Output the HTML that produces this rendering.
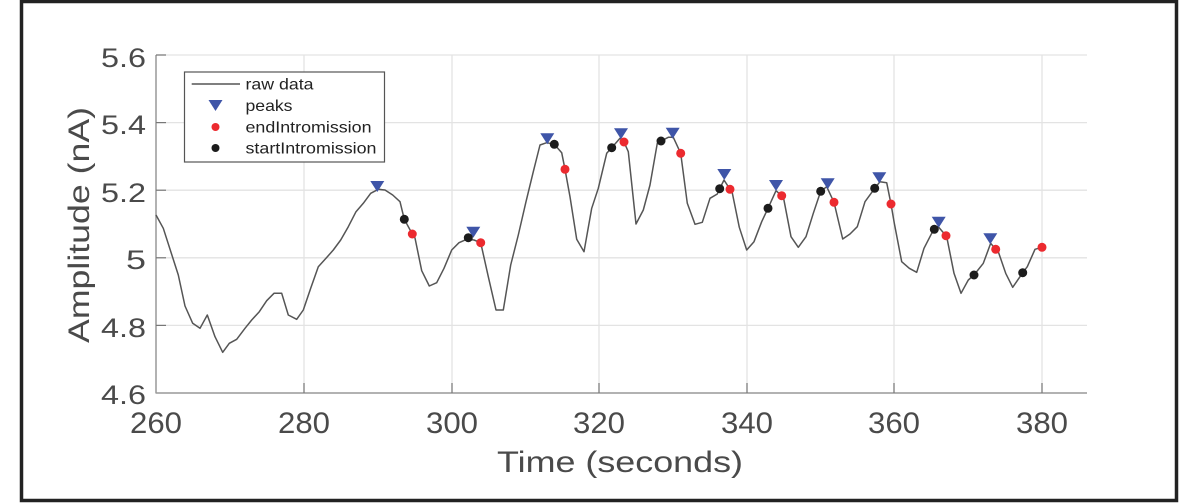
<!DOCTYPE html>
<html><head><meta charset="utf-8"><style>
html,body{margin:0;padding:0;background:#fff;}
svg{display:block;font-family:"Liberation Sans",sans-serif;}
</style></head><body>
<svg width="1200" height="504" viewBox="0 0 1200 504" xmlns="http://www.w3.org/2000/svg">
<rect x="0" y="0" width="1200" height="504" fill="#fff"/>
<rect x="21.5" y="1.5" width="1155" height="499" fill="#fff" stroke="#222" stroke-width="3.5"/>
<!-- grid -->
<g stroke="#e3e3e3" stroke-width="1.3">
<line x1="304" y1="55" x2="304" y2="393"/><line x1="452" y1="55" x2="452" y2="393"/>
<line x1="599" y1="55" x2="599" y2="393"/><line x1="747" y1="55" x2="747" y2="393"/>
<line x1="894" y1="55" x2="894" y2="393"/><line x1="1042" y1="55" x2="1042" y2="393"/>
<line x1="156" y1="55" x2="1087" y2="55"/><line x1="156" y1="122.6" x2="1087" y2="122.6"/>
<line x1="156" y1="190.2" x2="1087" y2="190.2"/><line x1="156" y1="257.8" x2="1087" y2="257.8"/>
<line x1="156" y1="325.4" x2="1087" y2="325.4"/>
</g>
<!-- axes -->
<g stroke="#999" stroke-width="1.5">
<line x1="156" y1="55" x2="156" y2="393.5"/><line x1="156" y1="393" x2="1087" y2="393"/>
</g>
<g stroke="#777" stroke-width="1.2">
<line x1="304" y1="393" x2="304" y2="383"/><line x1="452" y1="393" x2="452" y2="383"/>
<line x1="599" y1="393" x2="599" y2="383"/><line x1="747" y1="393" x2="747" y2="383"/>
<line x1="894" y1="393" x2="894" y2="383"/><line x1="1042" y1="393" x2="1042" y2="383"/>
<line x1="156" y1="55" x2="166" y2="55"/><line x1="156" y1="122.6" x2="166" y2="122.6"/>
<line x1="156" y1="190.2" x2="166" y2="190.2"/><line x1="156" y1="257.8" x2="166" y2="257.8"/>
<line x1="156" y1="325.4" x2="166" y2="325.4"/>
</g>
<!-- tick labels -->
<g fill="#4a4a4a" font-size="27" text-anchor="end" lengthAdjust="spacingAndGlyphs">
<text x="146" y="67" textLength="45" lengthAdjust="spacingAndGlyphs">5.6</text>
<text x="146" y="134" textLength="45" lengthAdjust="spacingAndGlyphs">5.4</text>
<text x="146" y="202" textLength="45" lengthAdjust="spacingAndGlyphs">5.2</text>
<text x="146" y="269" textLength="20" lengthAdjust="spacingAndGlyphs">5</text>
<text x="146" y="337" textLength="45" lengthAdjust="spacingAndGlyphs">4.8</text>
<text x="146" y="404" textLength="45" lengthAdjust="spacingAndGlyphs">4.6</text>
</g>
<g fill="#4a4a4a" font-size="30" text-anchor="middle">
<text x="156" y="433" textLength="52" lengthAdjust="spacingAndGlyphs">260</text>
<text x="304" y="433" textLength="52" lengthAdjust="spacingAndGlyphs">280</text>
<text x="452" y="433" textLength="52" lengthAdjust="spacingAndGlyphs">300</text>
<text x="599" y="433" textLength="52" lengthAdjust="spacingAndGlyphs">320</text>
<text x="747" y="433" textLength="52" lengthAdjust="spacingAndGlyphs">340</text>
<text x="894" y="433" textLength="52" lengthAdjust="spacingAndGlyphs">360</text>
<text x="1042" y="433" textLength="52" lengthAdjust="spacingAndGlyphs">380</text>
</g>
<text x="620" y="472" fill="#4a4a4a" font-size="30" text-anchor="middle" textLength="246" lengthAdjust="spacingAndGlyphs">Time (seconds)</text>
<text transform="translate(89,225) rotate(-90)" fill="#4a4a4a" font-size="30" text-anchor="middle" textLength="236" lengthAdjust="spacingAndGlyphs">Amplitude (nA)</text>
<!-- data -->
<polyline fill="none" stroke="#555" stroke-width="1.5" stroke-linejoin="round" points="
156,215 163.3,228.3 178.3,275 185,306 192.7,323.3 200,328.3 207.3,315 215,336.7 222.7,352.3 229.3,343.3 236.7,339.3 245,328.3 251.7,320 259.3,311.7 266.7,300.7 274,293.3 281.7,293.3 288.3,315 296.7,319.3 303.3,310 310.7,288.3 318.3,266.7 326,258.3 333.3,250 340.7,240 348.3,226.7 356,211.7 363.3,203.3 370.7,193.3 378.3,189.3 385,190 392.7,195 400,201.7 404.3,219.3 412.3,234 415,238 421.7,270.7 429.3,286 436.7,282.7 444,268.3 451.7,250 459,242.7 466.7,239.3 474,240 480.7,242.7 488.3,276.7 496,310 503.3,310 510.7,265 518.3,235 526,201.7 533.3,171.7 540,145 546.7,142.7 554.3,144.3 561.7,152.7 565,169.3 570,196.7 576.7,239.3 584,251.7 591.7,208.3 598.3,188.3 606.7,153.3 611.7,147.7 620,138.3 624,142 628.3,151.7 636,224 643.3,210 650,185 657.3,143.3 661,141 668.3,137.3 673.3,137.3 680.7,153.3 687.3,203.3 695,224.3 702.3,222.3 710,198.3 717.3,194 719.7,188.7 724,180 730,189.3 731.7,190 739.3,227.3 746.7,250 754,241.7 761.7,221.7 768,208.3 776,190.7 781.7,195.7 783.3,196.7 791,236.7 798.3,247.3 806,236.7 813.3,213.3 820.7,191.3 826.7,186.7 834,202.3 842.7,239 850,234 857.3,226.7 865,201.7 872.3,191.7 874.7,188.3 880,181.7 886.7,182.7 891,204 894.3,223.3 901.7,261.7 909.3,268.3 916.7,272.3 924,248.3 931.7,233.3 934.3,229.3 938.3,226.7 946,235.7 946.7,236.7 954,273.3 961,293.3 968.3,280 974,275 983.3,263.3 990.7,243.3 995.7,249.3 998.3,251.7 1005.7,273.3 1012.7,287.3 1020,276.7 1022.7,272.7 1027.3,266.7 1035,249.3 1042,247.3"/>
<!-- peaks -->
<g fill="#3f55a8">
<path d="M370.3,181 h14 l-7,11 z"/>
<path d="M466.3,226.7 h14 l-7,11 z"/>
<path d="M540.3,133.3 h14 l-7,11 z"/>
<path d="M614,128.3 h14 l-7,11 z"/>
<path d="M665.7,127.7 h14 l-7,11 z"/>
<path d="M717.3,169 h14 l-7,11 z"/>
<path d="M769,180 h14 l-7,11 z"/>
<path d="M820.7,178.3 h14 l-7,11 z"/>
<path d="M872.3,172.3 h14 l-7,11 z"/>
<path d="M931.7,216.7 h14 l-7,11 z"/>
<path d="M983.3,233.3 h14 l-7,11 z"/>
</g>
<g fill="#1c1c1c">
<circle cx="404.3" cy="219.3" r="4.5"/><circle cx="468.3" cy="237.7" r="4.5"/><circle cx="554.3" cy="144.3" r="4.5"/>
<circle cx="611.7" cy="147.7" r="4.5"/><circle cx="661" cy="141" r="4.5"/><circle cx="719.7" cy="188.7" r="4.5"/>
<circle cx="768" cy="208.3" r="4.5"/><circle cx="820.7" cy="191.3" r="4.5"/><circle cx="874.7" cy="188.3" r="4.5"/>
<circle cx="934.3" cy="229.3" r="4.5"/><circle cx="974" cy="275" r="4.5"/><circle cx="1022.7" cy="272.7" r="4.5"/>
</g>
<g fill="#ec2a2f">
<circle cx="412.3" cy="234" r="4.5"/><circle cx="480.7" cy="242.7" r="4.5"/><circle cx="565" cy="169.3" r="4.5"/>
<circle cx="624" cy="142" r="4.5"/><circle cx="680.7" cy="153.3" r="4.5"/><circle cx="730" cy="189.3" r="4.5"/>
<circle cx="781.7" cy="195.7" r="4.5"/><circle cx="834" cy="202.3" r="4.5"/><circle cx="891" cy="204" r="4.5"/>
<circle cx="946" cy="235.7" r="4.5"/><circle cx="995.7" cy="249.3" r="4.5"/><circle cx="1042" cy="247.3" r="4.5"/>
</g>
<!-- legend -->
<rect x="184.5" y="72" width="200" height="90" fill="#fff" stroke="#555" stroke-width="1.2"/>
<line x1="191.7" y1="84" x2="240" y2="84" stroke="#333" stroke-width="1.3"/>
<path d="M208.5,100 h14 l-7,11 z" fill="#3f55a8"/>
<circle cx="215.5" cy="127" r="4" fill="#ec2a2f"/>
<circle cx="215.5" cy="148" r="4" fill="#1c1c1c"/>
<g fill="#222" font-size="16">
<text x="245.5" y="89.5" textLength="68" lengthAdjust="spacingAndGlyphs">raw data</text>
<text x="245.5" y="111" textLength="47" lengthAdjust="spacingAndGlyphs">peaks</text>
<text x="245.5" y="132.5" textLength="126" lengthAdjust="spacingAndGlyphs">endIntromission</text>
<text x="245.5" y="153.5" textLength="131" lengthAdjust="spacingAndGlyphs">startIntromission</text>
</g>
</svg>
</body></html>
